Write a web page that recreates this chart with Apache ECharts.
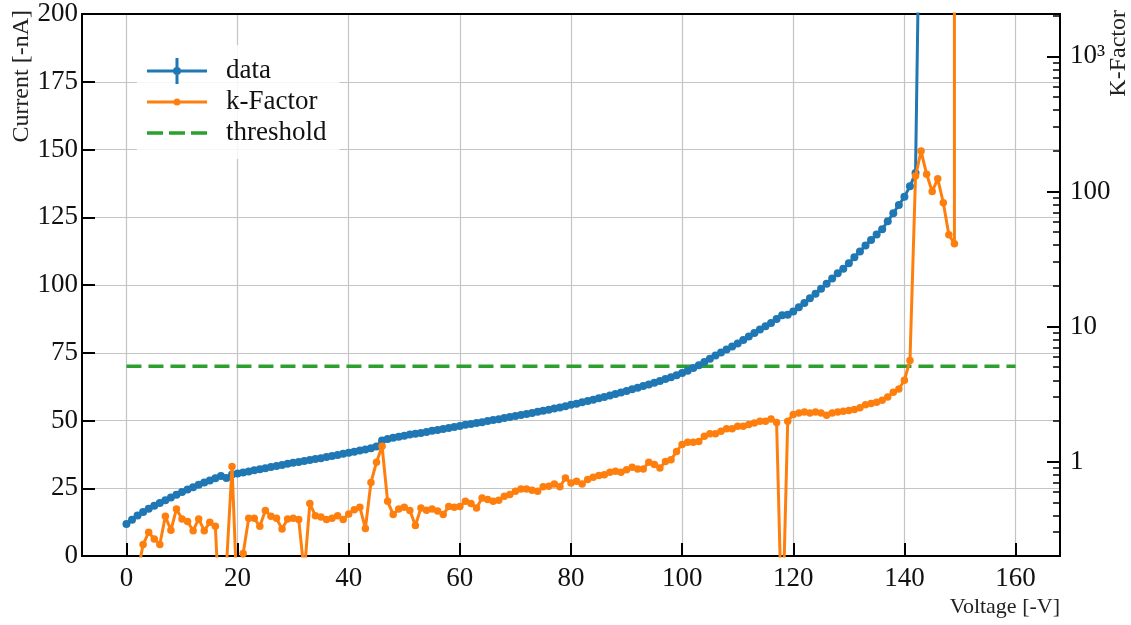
<!DOCTYPE html>
<html><head><meta charset="utf-8">
<script src="https://cdn.jsdelivr.net/npm/echarts@6/dist/echarts.min.js"></script>
<style>html,body{margin:0;padding:0;background:#fff}#c{width:1131px;height:625px}</style>
</head><body><div id="c"></div>
<script>
// ---------- data ----------
const voltage = [0,1,2,3,4,5,6,7,8,9,10,11,12,13,14,15,16,17,18,19,20,21,22,23,24,25,26,27,28,29,
30,31,32,33,34,35,36,37,38,39,40,41,42,43,44,45,46,47,48,49,50,51,52,53,54,55,56,57,58,59,
60,61,62,63,64,65,66,67,68,69,70,71,72,73,74,75,76,77,78,79,80,81,82,83,84,85,86,87,88,89,
90,91,92,93,94,95,96,97,98,99,100,101,102,103,104,105,106,107,108,109,110,111,112,113,114,115,116,117,118,119,
120,121,122,123,124,125,126,127,128,129,130,131,132,133,134,135,136,137,138,139,140,141,142,143];
const current = [11.8,13.4,14.9,16.2,17.4,18.5,19.6,20.6,21.6,22.6,
23.6,24.5,25.4,26.3,27.1,27.9,28.7,29.5,28.8,30.1,
30.4,30.8,31.2,31.6,32.0,32.4,32.8,33.2,33.6,34.0,
34.4,34.7,35.1,35.4,35.8,36.1,36.5,36.9,37.3,37.7,
38.1,38.5,38.9,39.3,39.8,40.4,42.6,43.2,43.6,44.0,
44.4,44.8,45.1,45.4,45.8,46.2,46.5,46.9,47.2,47.6,
48.0,48.4,48.7,49.1,49.4,49.8,50.2,50.5,50.9,51.3,
51.7,52.0,52.4,52.8,53.2,53.6,54.0,54.4,54.8,55.3,
55.8,56.2,56.7,57.2,57.7,58.2,58.7,59.2,59.8,60.3,
60.9,61.5,62.1,62.7,63.3,63.9,64.6,65.3,66.0,66.7,
67.5,68.4,69.4,70.4,71.6,72.8,74.0,75.1,76.2,77.3,
78.4,79.7,81.0,82.3,83.6,84.8,86.0,87.5,88.8,89.0,
90.2,91.8,93.4,95.1,96.8,98.6,100.5,102.4,104.3,106.0,
108.0,110.2,112.4,114.6,116.6,118.6,120.6,123.5,126.5,129.5,
132.6,136.4,141.3,280];

const kVoltage = [2,3,4,5,6,7,8,9,10,11,12,13,14,15,16,17,18,19,20,21,22,23,24,25,26,27,28,29,30,31,
32,33,34,35,36,37,38,39,40,41,42,43,44,45,46,47,48,49,50,51,52,53,54,55,56,57,58,59,60,61,
62,63,64,65,66,67,68,69,70,71,72,73,74,75,76,77,78,79,80,81,82,83,84,85,86,87,88,89,90,91,
92,93,94,95,96,97,98,99,100,101,102,103,104,105,106,107,108,109,110,111,112,113,114,115,116,117,118,119,120,121,
122,123,124,125,126,127,128,129,130,131,132,133,134,135,136,137,138,139,140,141,142,143,144,145,146,147,148,149,149];
const kFactor = [0.15,0.243,0.30,0.267,0.243,0.394,0.31,0.446,0.376,0.36,
0.308,0.376,0.308,0.355,0.332,0.045,0.17,0.92,0.08,0.209,
0.38,0.38,0.332,0.434,0.394,0.38,0.317,0.376,0.38,0.372,
0.15,0.489,0.398,0.389,0.372,0.38,0.398,0.372,0.41,0.44,
0.46,0.32,0.70,0.99,1.30,0.508,0.405,0.446,0.459,0.434,
0.336,0.454,0.436,0.446,0.43,0.405,0.466,0.46,0.466,0.508,
0.489,0.454,0.538,0.523,0.508,0.517,0.553,0.57,0.603,0.628,
0.628,0.613,0.603,0.65,0.656,0.683,0.65,0.757,0.695,0.715,
0.683,0.736,0.765,0.788,0.80,0.833,0.848,0.833,0.872,0.907,
0.883,0.883,0.99,0.95,0.898,1.0,1.03,1.19,1.34,1.39,
1.39,1.41,1.54,1.61,1.61,1.68,1.75,1.75,1.83,1.83,
1.88,1.93,1.99,1.99,2.07,1.95,0.05,1.99,2.23,2.29,
2.33,2.29,2.33,2.29,2.2,2.29,2.33,2.36,2.39,2.43,
2.5,2.64,2.69,2.75,2.84,3.01,3.26,3.45,4.0,5.6,
130,199,134,100,124,82.5,47.8,41,
100000];

const thresholdV = [0, 160];
const thresholdI = [70, 70];

const xTicks = [0,20,40,60,80,100,120,140,160];
const kMajorTicks = [1,10,100,1000];
const kMinorTicks = [0.3,0.4,0.5,0.6,0.7,0.8,0.9,2,3,4,5,6,7,8,9,20,30,40,50,60,70,80,90,200,300,400,500,600,700,800,900,2000];

// ---------- chart ----------
const FONT = 'Liberation Serif';
const X_MIN = -8, X_MAX = 168;
const K_MIN = 0.2, K_MAX = 2060;
const zip = (a, b) => a.map((v, i) => [v, b[i]]);
const spec = 'M0,0h0.01v0.01h-0.01z M73.99,27.99h0.01v0.01h-0.01z ';
const iconData = 'path://' + spec + 'M0,12.5h60v3h-60z M28.5,1h3v26h-3z M26,14a4,4 0 1,1 8,0a4,4 0 1,1 -8,0z';
const iconK = 'path://' + spec + 'M0,12.5h60v3h-60z M26.5,14a3.5,3.5 0 1,1 7,0a3.5,3.5 0 1,1 -7,0z';
const iconT = 'path://' + spec + 'M0,12.2h16v3.6h-16z M22,12.2h16v3.6h-16z M44,12.2h16v3.6h-16z';

const chart = echarts.init(document.getElementById('c'), null, {renderer: 'canvas'});
chart.setOption({
  animation: false,
  backgroundColor: '#fff',
  grid: {left: 82, right: 71, top: 14, bottom: 69, show: true, borderColor: '#000', borderWidth: 2,
         backgroundColor: 'transparent', containLabel: false, outerBoundsMode: 'none'},
  legend: {
    orient: 'vertical', left: 137, top: 45,
    padding: [12, 13, 12, 10],
    itemWidth: 74, itemHeight: 28, itemGap: 3,
    backgroundColor: 'rgba(255,255,255,0.85)', borderRadius: 4, borderWidth: 0,
    itemStyle: {borderWidth: 0},
    selectedMode: false,
    textStyle: {fontFamily: FONT, fontSize: 27, color: '#111', lineHeight: 28},
    data: [{name: 'data', icon: iconData}, {name: 'k-Factor', icon: iconK}, {name: 'threshold', icon: iconT}]
  },
  xAxis: [{
    type: 'value', min: X_MIN, max: X_MAX, position: 'bottom',
    name: 'Voltage [-V]', nameLocation: 'end', nameGap: 0, nameMoveOverlap: false,
    nameTextStyle: {fontFamily: FONT, fontSize: 22, color: '#222', align: 'right', verticalAlign: 'top', padding: [40, 0, 0, 0]},
    axisLine: {show: true, onZero: false, lineStyle: {color: '#000', width: 2}},
    axisTick: {show: true, inside: true, length: 13, lineStyle: {color: '#000', width: 2}, customValues: xTicks},
    axisLabel: {fontFamily: FONT, fontSize: 27, color: '#111', margin: 9, customValues: xTicks},
    splitLine: {show: true, lineStyle: {color: '#c4c4c4', width: 1.2}}
  }, {
    type: 'value', min: X_MIN, max: X_MAX, position: 'top',
    axisLine: {show: true, onZero: false, lineStyle: {color: '#000', width: 2}},
    axisTick: {show: false}, axisLabel: {show: false}, splitLine: {show: false}
  }],
  yAxis: [{
    type: 'value', min: 0, max: 200, interval: 25, position: 'left',
    name: 'Current [-nA]', nameLocation: 'end', nameRotate: 90, nameGap: 4, nameMoveOverlap: false,
    nameTextStyle: {fontFamily: FONT, fontSize: 24, color: '#222', align: 'right', verticalAlign: 'bottom', padding: [0, 0, 48, 0]},
    axisLine: {show: true, onZero: false, lineStyle: {color: '#000', width: 2}},
    axisTick: {show: true, inside: true, length: 13, lineStyle: {color: '#000', width: 2}},
    axisLabel: {fontFamily: FONT, fontSize: 27, color: '#111', margin: 4},
    splitLine: {show: true, lineStyle: {color: '#c4c4c4', width: 1.2}}
  }, {
    type: 'log', logBase: 10, min: K_MIN, max: K_MAX, position: 'right',
    name: 'K-Factor', nameLocation: 'end', nameRotate: 90, nameGap: 4, nameMoveOverlap: false,
    nameTextStyle: {fontFamily: FONT, fontSize: 24, color: '#222', align: 'right', verticalAlign: 'top', padding: [47, 0, 0, 0]},
    axisLine: {show: true, onZero: false, lineStyle: {color: '#000', width: 2}},
    axisTick: {show: true, inside: true, length: 13, lineStyle: {color: '#000', width: 2}, customValues: kMajorTicks},
    axisLabel: {fontFamily: FONT, fontSize: 27, color: '#111', margin: 10, customValues: kMajorTicks,
      formatter: v => (v >= 1000 ? '10\u00B3' : String(v))},
    splitLine: {show: false}
  }, {
    // minor ticks of the K-Factor log axis
    type: 'log', logBase: 10, min: K_MIN, max: K_MAX, position: 'right',
    axisLine: {show: true, onZero: false, lineStyle: {color: 'transparent'}},
    axisTick: {show: true, inside: true, length: 7, lineStyle: {color: '#000', width: 1.5}, customValues: kMinorTicks},
    axisLabel: {show: false},
    splitLine: {show: false}
  }],
  series: [{
    name: 'threshold', type: 'line', yAxisIndex: 0,
    data: zip(thresholdV, thresholdI), symbol: 'none', z: 2,
    lineStyle: {color: '#2ca02c', width: 3.5, type: [15, 7]},
    itemStyle: {color: '#2ca02c'}
  }, {
    name: 'data', type: 'line', yAxisIndex: 0,
    data: zip(voltage, current), symbol: 'circle', symbolSize: 8, z: 3, clip: true,
    lineStyle: {color: '#1f77b4', width: 3},
    itemStyle: {color: '#1f77b4', borderWidth: 0}
  }, {
    name: 'k-Factor', type: 'line', yAxisIndex: 1,
    data: zip(kVoltage, kFactor), symbol: 'circle', symbolSize: 7.5, z: 4, clip: true,
    lineStyle: {color: '#ff7f0e', width: 3},
    itemStyle: {color: '#ff7f0e', borderWidth: 0}
  }]
});
</script></body></html>
